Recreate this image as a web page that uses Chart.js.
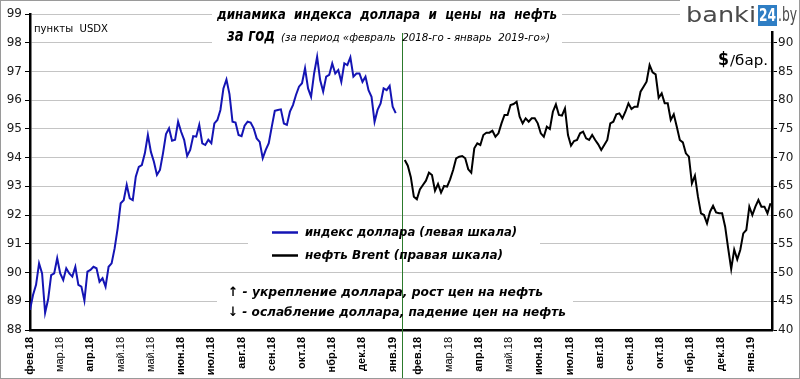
<!DOCTYPE html>
<html><head><meta charset="utf-8">
<script src="https://cdn.jsdelivr.net/npm/chart.js@4/dist/chart.umd.min.js"></script>
<style>html,body{margin:0;padding:0;background:#fff}#wrap{width:800px;height:379px}</style>
</head><body><div id="wrap"><canvas id="c" width="800" height="379"></canvas></div>
<script>
// dollar index (USDX), points, Feb 2018 - Jan 2019
const usdx = [88.7,89.22,89.57,90.32,89.97,88.6,89.07,89.91,89.97,90.5,
  89.97,89.74,90.15,89.97,89.86,90.2,89.57,89.51,89.02,90.03,
  90.09,90.2,90.15,89.68,89.8,89.51,90.2,90.32,90.84,91.54,
  92.41,92.52,93.05,92.58,92.52,93.34,93.68,93.74,94.15,94.79,
  94.2,93.86,93.4,93.57,94.15,94.82,95.02,94.59,94.62,95.25,
  94.9,94.62,94.06,94.27,94.75,94.73,95.14,94.5,94.44,94.62,
  94.5,95.19,95.31,95.66,96.41,96.72,96.21,95.25,95.22,94.79,
  94.75,95.11,95.25,95.22,95.02,94.67,94.55,93.98,94.27,94.5,
  95.08,95.63,95.66,95.68,95.19,95.14,95.6,95.83,96.18,96.47,
  96.59,97.11,96.41,96.12,96.93,97.51,96.7,96.3,96.82,96.88,
  97.28,96.93,97.05,96.64,97.28,97.22,97.49,96.82,96.93,96.93,
  96.64,96.82,96.35,96.12,95.25,95.66,95.89,96.41,96.35,96.5,
  95.77,95.55];
// Brent, $/bbl, Feb 2018 - Jan 2019
const brent = [69.6,68.6,66.6,63.2,62.74,64.48,65.23,65.99,67.38,66.98,
  64.25,65.41,63.9,65.06,64.94,66.22,67.85,69.88,70.17,70.28,
  69.88,67.96,67.38,71.62,72.49,72.2,73.94,74.34,74.34,74.69,
  73.65,74.23,75.97,77.42,77.42,79.16,79.33,79.73,77.12,75.97,
  76.84,76.26,76.84,76.84,75.97,74.23,73.65,75.39,74.98,77.99,
  79.27,77.42,77.3,78.57,73.94,72.08,72.89,73.07,74.23,74.52,
  73.36,73.07,73.94,73.07,72.32,71.33,72.2,73.07,75.97,76.26,
  77.54,77.71,76.84,77.99,79.45,78.46,78.86,78.86,81.47,82.34,
  83.22,86.12,84.84,84.49,80.43,81.19,79.45,79.45,76.55,77.54,
  75.39,73.07,72.66,70.75,70.17,65.53,66.86,63.2,60.31,60.01,
  58.57,60.59,61.63,60.48,60.31,60.31,57.98,54.21,50.6,54.0,
  52.3,53.92,56.82,57.4,61.46,60.01,61.46,62.62,61.46,61.46,
  60.31,62.05];
const usdxStart = 0;     // position index of first USDX point
const brentStart = 124;  // position index of first Brent point
const dividerIdx = 123;
const tickLabels = ['фев.18','мар.18','апр.18','май.18','май.18','июн.18','июл.18','авг.18','сен.18','окт.18','нбр.18','дек.18','янв.19',
  'фев.18','мар.18','апр.18','май.18','июн.18','июл.18','авг.18','сен.18','окт.18','нбр.18','дек.18','янв.19'];
const tickIdx = [0,10,20,30,40,50,60,70,80,90,100,110,120,
  128.5,138.5,148.5,158.5,168.5,178.5,188.5,198.5,208.5,218.5,228.5,238.5];

const usdxData = usdx.map((v,i)=>({x: usdxStart+i, y: v}));
const brentData = brent.map((v,i)=>({x: brentStart+i, y: v}));

function txt(c, s, x, y, font, color, w){
  c.font = font; c.fillStyle = color; c.textBaseline = 'middle'; c.textAlign = 'left';
  const m = c.measureText(s).width;
  if (w) { c.save(); c.translate(x, y); c.scale(w/m, 1); c.fillText(s, 0, 0); c.restore(); }
  else c.fillText(s, x, y);
}

const deco = {
  id: 'deco',
  beforeDatasetsDraw(chart){
    const c = chart.ctx; c.save(); c.fillStyle = '#fff';
    c.fillRect(212, 0, 350, 48);
    c.fillRect(248, 218, 292, 48);
    c.fillRect(217, 279, 356, 48);
    c.restore();
  },
  afterDatasetsDraw(chart){
    const c = chart.ctx; const x = Math.round(chart.scales.x.getPixelForValue(dividerIdx)) + 0.5;
    c.save(); c.strokeStyle = '#2c7a2c'; c.lineWidth = 1;
    c.beginPath(); c.moveTo(x, 33); c.lineTo(x, 379); c.stroke(); c.restore();
  },
  afterDraw(chart){
    const c = chart.ctx; c.save();
    const BI = (s)=>'italic bold '+s+'px "DejaVu Sans"';
    txt(c, 'динамика  индекса  доллара  и  цены  на  нефть', 217, 15, BI(13.5), '#000', 340);
    txt(c, 'за год', 227, 37, BI(17), '#000', 48);
    txt(c, '(за период «февраль  2018-го - январь  2019-го»)', 281, 38, 'italic 11px "DejaVu Sans"', '#000', 269);
    txt(c, 'пункты  USDX', 34, 29.5, '11px "DejaVu Sans"', '#000', 74);
    txt(c, '$', 718, 60, 'bold 18px "DejaVu Sans"', '#000', 11);
    txt(c, '/бар.', 730, 61, '14px "DejaVu Sans"', '#000', 38);
    // legend
    c.lineWidth = 2.5;
    c.strokeStyle = '#1414b4'; c.beginPath(); c.moveTo(272, 232.5); c.lineTo(298, 232.5); c.stroke();
    c.strokeStyle = '#000'; c.beginPath(); c.moveTo(272, 255.5); c.lineTo(298, 255.5); c.stroke();
    txt(c, 'индекс доллара (левая шкала)', 305, 233, BI(12.5), '#000', 212);
    txt(c, 'нефть Brent (правая шкала)', 305, 256, BI(12.5), '#000', 198);
    txt(c, '↑ - укрепление доллара, рост цен на нефть', 228, 293, BI(13), '#000', 315);
    txt(c, '↓ - ослабление доллара, падение цен на нефть', 228, 313, BI(13), '#000', 338);
    // border
    c.strokeStyle = '#9a9a9a'; c.lineWidth = 1; c.strokeRect(0.5, 0.5, 799, 378);
    // logo
    c.fillStyle = '#fff'; c.fillRect(680, 0, 119, 31);
    txt(c, 'banki', 686, 16, '22px "DejaVu Sans"', '#4a4a4a', 70);
    c.fillStyle = '#2f7ec4'; c.fillRect(758, 5, 19, 21);
    txt(c, '24', 759, 16, 'bold 18px "DejaVu Sans"', '#fff', 17);
    txt(c, '.by', 778, 16, '20px "DejaVu Sans"', '#4a4a4a', 19);
    c.restore();
  }
};

new Chart(document.getElementById('c'), {
  type: 'line',
  data: { datasets: [
    { label: 'индекс доллара (левая шкала)', data: usdxData, yAxisID: 'y', borderColor: '#1414b4', borderWidth: 2, pointRadius: 0, tension: 0, fill: false },
    { label: 'нефть Brent (правая шкала)', data: brentData, yAxisID: 'y1', borderColor: '#000', borderWidth: 2, pointRadius: 0, tension: 0, fill: false }
  ]},
  options: {
    responsive: false, animation: false, devicePixelRatio: 1,
    layout: { padding: { top: 14, left: 0, right: 0, bottom: 0 } },
    plugins: { legend: { display: false }, tooltip: { enabled: false } },
    scales: {
      x: { type: 'linear', min: 0, max: 245.5,
        grid: { display: false, drawTicks: false },
        border: { display: true, color: '#000', width: 2.5 },
        afterBuildTicks: s => { s.ticks = tickIdx.map(v => ({ value: v })); },
        afterFit: s => { s.height = 49; },
        ticks: { autoSkip: false, minRotation: 90, maxRotation: 90, padding: 7, color: '#000',
          callback: (v, i) => tickLabels[i],
          font: ctx => ({ family: '"Liberation Sans", Arial', size: 11,
            weight: (ctx.tick && String(ctx.tick.label).startsWith('ма')) ? 'normal' : 'bold' }) } },
      y: { position: 'left', min: 88, max: 99,
        grid: { color: '#c4c4c4', lineWidth: 1, drawTicks: true, tickLength: 5, tickColor: '#000' },
        border: { display: true, color: '#000', width: 2.5 },
        afterFit: s => { s.width = 30; },
        ticks: { stepSize: 1, padding: 3, color: '#1a1a1a', font: { family: '"DejaVu Sans"', size: 12 } } },
      y1: { position: 'right', min: 40, max: 95,
        grid: { drawOnChartArea: false, drawTicks: true, tickLength: 5, tickColor: '#000' },
        border: { display: true, color: '#000', width: 2.5 },
        afterFit: s => { s.width = 28; },
        ticks: { stepSize: 5, padding: 1, color: '#1a1a1a', font: { family: '"DejaVu Sans"', size: 12 },
          callback: v => v === 95 ? '' : v } }
    }
  },
  plugins: [deco]
});
</script>
</body></html>
